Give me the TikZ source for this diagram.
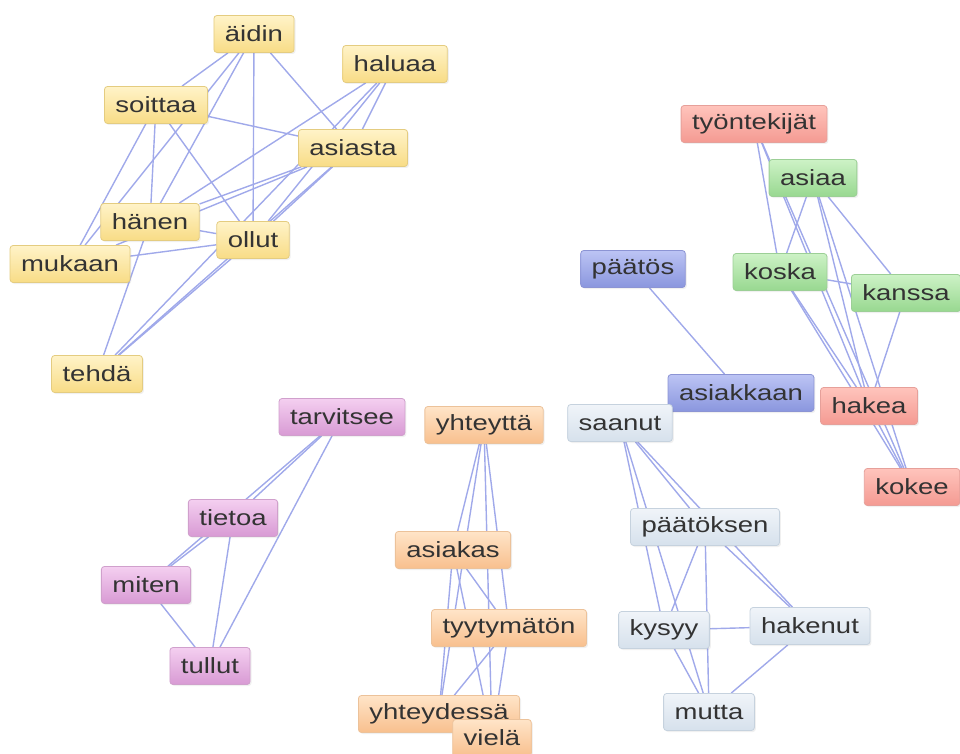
\documentclass[tikz,border=0pt]{standalone}
\usepackage{fontspec}
\setmainfont{Liberation Sans}[FakeStretch=1.25]
\usetikzlibrary{backgrounds,shadows}
\definecolor{edgec}{HTML}{A0A9EA}
\definecolor{txt}{HTML}{333333}
\definecolor{yT}{HTML}{FFF3C8}\definecolor{yB}{HTML}{F8DC86}\definecolor{yD}{HTML}{E4CC80}
\definecolor{rT}{HTML}{FFC4BC}\definecolor{rB}{HTML}{F49A92}\definecolor{rD}{HTML}{E6A09A}
\definecolor{gT}{HTML}{CDF2C6}\definecolor{gB}{HTML}{98D890}\definecolor{gD}{HTML}{9CCF96}
\definecolor{bT}{HTML}{BCC4F4}\definecolor{bB}{HTML}{8A96DE}\definecolor{bD}{HTML}{8C94D4}
\definecolor{lT}{HTML}{F0F4F9}\definecolor{lB}{HTML}{D6E1EC}\definecolor{lD}{HTML}{C6D2DE}
\definecolor{oT}{HTML}{FFE4C8}\definecolor{oB}{HTML}{F8C08E}\definecolor{oD}{HTML}{ECC29A}
\definecolor{pT}{HTML}{F4CFF0}\definecolor{pB}{HTML}{D89AD4}\definecolor{pD}{HTML}{D0A0CC}
\tikzset{
  word/.style={rounded corners=3pt, draw, line width=0.8pt, minimum height=37pt,
    inner xsep=11pt, text=txt, font=\fontsize{22}{24}\selectfont,
    drop shadow={opacity=0.12, shadow xshift=1.5pt, shadow yshift=-1.5pt}},
  yel/.style={word, top color=yT, bottom color=yB, draw=yD},
  red/.style={word, top color=rT, bottom color=rB, draw=rD},
  grn/.style={word, top color=gT, bottom color=gB, draw=gD},
  blu/.style={word, top color=bT, bottom color=bB, draw=bD},
  lbl/.style={word, top color=lT, bottom color=lB, draw=lD},
  org/.style={word, top color=oT, bottom color=oB, draw=oD},
  pur/.style={word, top color=pT, bottom color=pB, draw=pD},
  link/.style={draw=edgec, line width=1.4pt}
}
\begin{document}
\begin{tikzpicture}[x=1pt,y=-1pt]
\useasboundingbox (0,0) rectangle (960,754);
% yellow
\node[yel] (aidin) at (254,34) {äidin};
\node[yel] (haluaa) at (395,64) {haluaa};
\node[yel] (soittaa) at (156,105) {soittaa};
\node[yel] (asiasta) at (353,148) {asiasta};
\node[yel] (hanen) at (150,222) {hänen};
\node[yel] (ollut) at (253,240) {ollut};
\node[yel] (mukaan) at (70,264) {mukaan};
\node[yel] (tehda) at (97,374) {tehdä};
% red / green / blue
\node[red] (tyo) at (754,124) {työntekijät};
\node[grn] (asiaa) at (813,178) {asiaa};
\node[blu] (paatos) at (633,269) {päätös};
\node[grn] (koska) at (780,272) {koska};
\node[grn] (kanssa) at (906,293) {kanssa};
\node[blu] (asiakkaan) at (741,393) {asiakkaan};
\node[red] (hakea) at (869,406) {hakea};
\node[red] (kokee) at (912,487) {kokee};
% light blue
\node[lbl] (saanut) at (620,423) {saanut};
\node[lbl] (paatoksen) at (705,527) {päätöksen};
\node[lbl] (kysyy) at (664,630) {kysyy};
\node[lbl] (hakenut) at (810,626) {hakenut};
\node[lbl] (mutta) at (709,712) {mutta};
% purple
\node[pur] (tarvitsee) at (342,417) {tarvitsee};
\node[pur] (tietoa) at (233,518) {tietoa};
\node[pur] (miten) at (146,585) {miten};
\node[pur] (tullut) at (210,666) {tullut};
% orange
\node[org] (yhteytta) at (484,425) {yhteyttä};
\node[org] (asiakas) at (453,550) {asiakas};
\node[org] (tyyty) at (509,628) {tyytymätön};
\node[org] (yhteydessa) at (439,714) {yhteydessä};
\node[org] (viela) at (492,738) {vielä};
\begin{scope}[on background layer]
\foreach \a/\b in {aidin/soittaa, aidin/hanen, aidin/mukaan, aidin/ollut, aidin/asiasta,
  soittaa/asiasta, soittaa/ollut, soittaa/hanen, soittaa/mukaan,
  haluaa/hanen, haluaa/asiasta, haluaa/ollut, haluaa/tehda,
  asiasta/hanen, asiasta/ollut, asiasta/tehda, asiasta/mukaan,
  hanen/ollut, hanen/tehda, mukaan/ollut, ollut/tehda,
  tyo/koska, tyo/hakea, tyo/kokee, asiaa/koska, asiaa/hakea, asiaa/kokee, asiaa/kanssa,
  koska/kanssa, koska/hakea, koska/kokee, kanssa/hakea, hakea/kokee,
  paatos/asiakkaan, asiakkaan/saanut,
  saanut/paatoksen, saanut/kysyy, saanut/mutta, saanut/hakenut,
  paatoksen/kysyy, paatoksen/mutta, paatoksen/hakenut, kysyy/hakenut, kysyy/mutta, hakenut/mutta,
  yhteytta/asiakas, yhteytta/tyyty, yhteytta/yhteydessa, yhteytta/viela,
  asiakas/tyyty, asiakas/yhteydessa, asiakas/viela, tyyty/yhteydessa, tyyty/viela,
  tarvitsee/tietoa, tarvitsee/miten, tarvitsee/tullut, tietoa/miten, tietoa/tullut, miten/tullut}
  \draw[link] (\a) -- (\b);
\end{scope}
\end{tikzpicture}
\end{document}
